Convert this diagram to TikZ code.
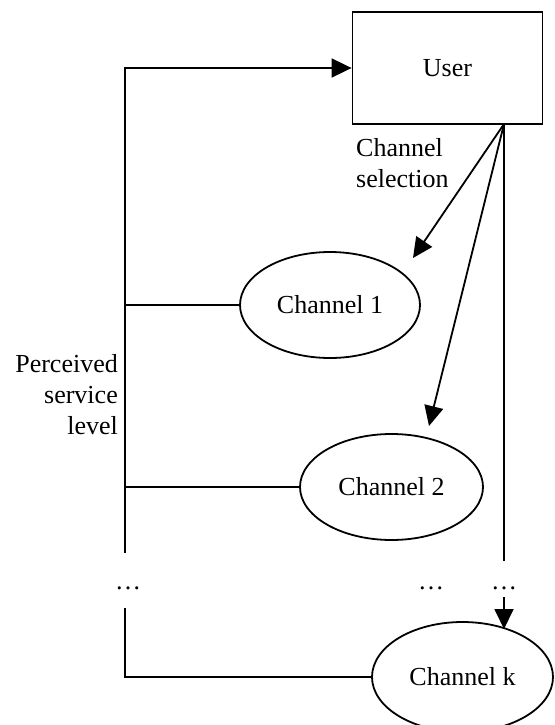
\documentclass[tikz,border=0pt]{standalone}
\usepackage{fontspec}
\setmainfont{Liberation Serif}
\usetikzlibrary{arrows.meta,shapes.geometric}
\begin{document}
\begin{tikzpicture}[x=1pt,y=-1pt,
  every node/.style={font=\fontsize{26}{31}\selectfont},
  conn/.style={line width=1.8pt},
  arr/.style={conn,-{Triangle[length=20pt,width=19pt]}},
  box/.style={draw,line width=1.8pt,minimum width=190pt,minimum height=112pt,inner sep=0pt},
  chan/.style={draw,ellipse,line width=1.8pt,inner sep=0pt},
  lbl/.style={inner sep=0pt}]
\useasboundingbox (0,0) rectangle (554,725);
\node[box] (user) at (447.5,68) {User};
\node[chan,minimum width=180pt,minimum height=106pt] (ch1) at (330,305) {Channel 1};
\node[chan,minimum width=183pt,minimum height=106pt] (ch2) at (391.5,487) {Channel 2};
\node[chan,minimum width=181pt,minimum height=110pt] (chk) at (462.5,677) {Channel k};
\node[lbl,anchor=north west,align=left] (sel) at (356,138) {Channel\\selection};
\node[lbl,anchor=north east,align=right] (psl) at (118,354) {Perceived\\service\\level};
\node[lbl] (d1) at (128,588) {\ldots};
\node[lbl] (d2) at (431,588) {\ldots};
\node[lbl] (d3) at (504,588) {\ldots};
\coordinate (us) at (504,124);
\coordinate (t1) at (413,258);
\coordinate (t2) at (429,426);
\coordinate (rend) at (504,561);
\coordinate (ks) at (504,597);
\coordinate (kt) at (504,629);
\coordinate (lend) at (125,553);
\coordinate (lbs) at (125,608);
% feedback
\draw[arr] (lend) |- (user.west);
\draw[conn] (ch1.west) -- (ch1.west -| lend);
\draw[conn] (ch2.west) -- (ch2.west -| lend);
\draw[conn] (lbs) |- (chk.west);
% selection
\draw[arr] (us) -- (t1);
\draw[arr] (us) -- (t2);
\draw[conn] (us) -- (rend);
\draw[arr] (ks) -- (kt);
\end{tikzpicture}
\end{document}
